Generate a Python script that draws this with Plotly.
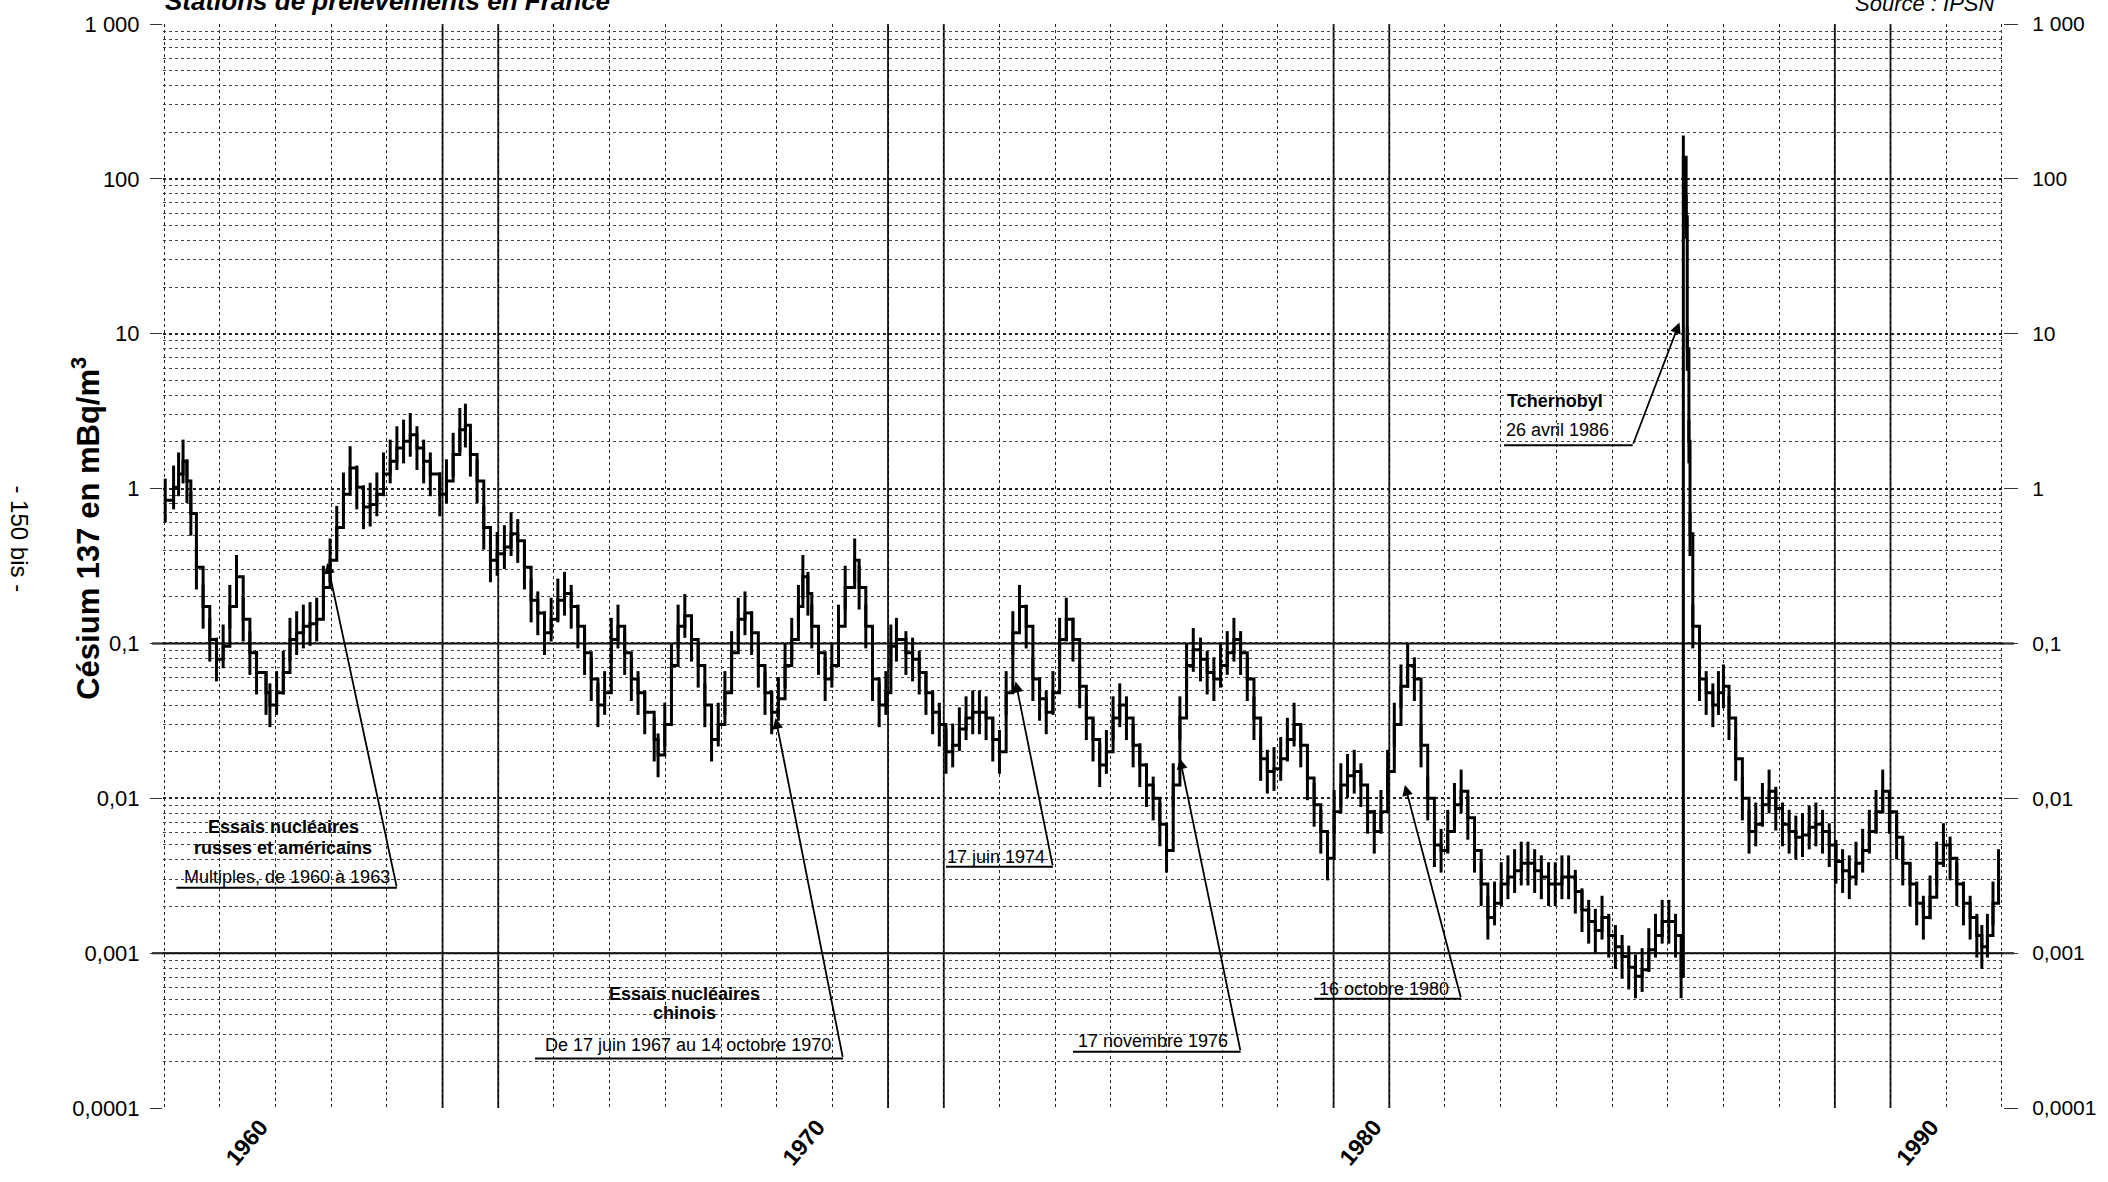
import math
import plotly.graph_objects as go

# ---------------- data ----------------
years = [
    1958.29, 1958.44, 1958.53, 1958.61, 1958.68, 1958.75, 1958.85, 1958.97, 1959.09, 1959.21,
    1959.33, 1959.45, 1959.57, 1959.69, 1959.81, 1959.93, 1960.10, 1960.17, 1960.29, 1960.41,
    1960.53, 1960.65, 1960.77, 1960.89, 1961.01, 1961.13, 1961.25, 1961.37, 1961.49, 1961.61,
    1961.73, 1961.85, 1961.97, 1962.09, 1962.21, 1962.33, 1962.45, 1962.57, 1962.69, 1962.81,
    1962.93, 1963.05, 1963.22, 1963.34, 1963.46, 1963.58, 1963.68, 1963.77, 1963.89, 1964.01,
    1964.13, 1964.25, 1964.38, 1964.50, 1964.62, 1964.74, 1964.86, 1964.98, 1965.10, 1965.22,
    1965.34, 1965.46, 1965.58, 1965.70, 1965.82, 1965.94, 1966.06, 1966.18, 1966.30, 1966.42,
    1966.54, 1966.66, 1966.78, 1966.90, 1967.07, 1967.14, 1967.26, 1967.38, 1967.50, 1967.62,
    1967.74, 1967.86, 1967.98, 1968.10, 1968.22, 1968.34, 1968.46, 1968.58, 1968.70, 1968.82,
    1968.94, 1969.06, 1969.18, 1969.30, 1969.42, 1969.54, 1969.66, 1969.74, 1969.83, 1969.90,
    1970.02, 1970.14, 1970.26, 1970.38, 1970.50, 1970.67, 1970.75, 1970.87, 1970.99, 1971.11,
    1971.23, 1971.32, 1971.42, 1971.59, 1971.71, 1971.83, 1971.95, 1972.07, 1972.19, 1972.31,
    1972.43, 1972.55, 1972.67, 1972.79, 1972.91, 1973.03, 1973.15, 1973.27, 1973.39, 1973.51,
    1973.63, 1973.75, 1973.87, 1973.99, 1974.11, 1974.23, 1974.35, 1974.47, 1974.59, 1974.71,
    1974.83, 1974.95, 1975.07, 1975.19, 1975.31, 1975.43, 1975.55, 1975.67, 1975.79, 1975.91,
    1976.03, 1976.15, 1976.27, 1976.39, 1976.51, 1976.63, 1976.75, 1976.88, 1977.00, 1977.12,
    1977.24, 1977.36, 1977.48, 1977.60, 1977.72, 1977.84, 1977.96, 1978.08, 1978.20, 1978.32,
    1978.44, 1978.56, 1978.68, 1978.80, 1978.92, 1979.04, 1979.16, 1979.28, 1979.40, 1979.52,
    1979.64, 1979.76, 1979.88, 1980.00, 1980.12, 1980.24, 1980.36, 1980.48, 1980.60, 1980.72,
    1980.84, 1980.96, 1981.08, 1981.20, 1981.32, 1981.44, 1981.56, 1981.68, 1981.80, 1981.92,
    1982.04, 1982.16, 1982.28, 1982.40, 1982.52, 1982.64, 1982.76, 1982.88, 1983.00, 1983.13,
    1983.25, 1983.37, 1983.49, 1983.61, 1983.73, 1983.85, 1983.97, 1984.09, 1984.21, 1984.33,
    1984.45, 1984.57, 1984.69, 1984.81, 1984.93, 1985.05, 1985.17, 1985.29, 1985.41, 1985.51,
    1985.55, 1985.60, 1985.62, 1985.65, 1985.67, 1985.72, 1985.84, 1985.96, 1986.08, 1986.18,
    1986.27, 1986.37, 1986.49, 1986.61, 1986.73, 1986.85, 1986.97, 1987.09, 1987.21, 1987.33,
    1987.45, 1987.57, 1987.69, 1987.81, 1987.93, 1988.05, 1988.17, 1988.29, 1988.41, 1988.53,
    1988.65, 1988.77, 1988.89, 1989.01, 1989.13, 1989.25, 1989.38, 1989.49, 1989.62, 1989.74,
    1989.86, 1989.98, 1990.10, 1990.22, 1990.34, 1990.46, 1990.58, 1990.70, 1990.82, 1990.91,
    1991.01, 1991.11, 1991.21,
]
cesium_mbq_m3 = [
    0.84, 1.02, 1.24, 1.50, 1.12, 0.69, 0.31, 0.173, 0.106, 0.079,
    0.096, 0.173, 0.27, 0.143, 0.087, 0.065, 0.048, 0.040, 0.048, 0.065,
    0.106, 0.117, 0.129, 0.134, 0.143, 0.23, 0.345, 0.56, 0.92, 1.36,
    1.02, 0.76, 0.79, 0.92, 1.24, 1.50, 1.83, 2.02, 2.23, 1.83,
    1.50, 1.24, 0.92, 1.12, 1.66, 2.4, 2.56, 1.66, 1.12, 0.56,
    0.345, 0.38, 0.42, 0.51, 0.46, 0.31, 0.19, 0.157, 0.117, 0.143,
    0.19, 0.21, 0.173, 0.129, 0.087, 0.059, 0.040, 0.048, 0.106, 0.129,
    0.087, 0.059, 0.048, 0.036, 0.024, 0.019, 0.030, 0.072, 0.129, 0.151,
    0.106, 0.072, 0.040, 0.024, 0.030, 0.048, 0.087, 0.143, 0.157, 0.117,
    0.072, 0.048, 0.036, 0.044, 0.072, 0.106, 0.173, 0.27, 0.21, 0.129,
    0.087, 0.059, 0.072, 0.129, 0.23, 0.345, 0.23, 0.129, 0.059, 0.040,
    0.048, 0.096, 0.106, 0.087, 0.079, 0.065, 0.048, 0.036, 0.030, 0.020,
    0.022, 0.028, 0.033, 0.036, 0.036, 0.033, 0.024, 0.020, 0.048, 0.117,
    0.173, 0.129, 0.059, 0.044, 0.036, 0.048, 0.106, 0.143, 0.106, 0.053,
    0.033, 0.024, 0.0164, 0.020, 0.033, 0.040, 0.033, 0.022, 0.0164, 0.0122,
    0.0100, 0.0068, 0.0046, 0.0122, 0.033, 0.072, 0.091, 0.079, 0.065, 0.059,
    0.072, 0.087, 0.106, 0.087, 0.059, 0.033, 0.018, 0.0149, 0.0155, 0.018,
    0.024, 0.030, 0.022, 0.0135, 0.0091, 0.0061, 0.0041, 0.0082, 0.0122, 0.0140,
    0.0149, 0.0122, 0.0082, 0.0061, 0.0082, 0.0149, 0.030, 0.053, 0.072, 0.059,
    0.022, 0.0100, 0.0050, 0.0046, 0.0061, 0.0091, 0.0111, 0.0075, 0.0046, 0.0028,
    0.0017, 0.0021, 0.0028, 0.0031, 0.0034, 0.0038, 0.0038, 0.0034, 0.0031, 0.0028,
    0.0028, 0.0031, 0.0031, 0.0025, 0.0019, 0.0016, 0.0014, 0.0017, 0.0013, 0.0011,
    0.00095, 0.00081, 0.00071, 0.00078, 0.00105, 0.0013, 0.0016, 0.0016, 0.0013, 0.00071,
    138.0, 57.0, 8.0, 2.02, 0.51, 0.129, 0.059, 0.048, 0.040, 0.048,
    0.053, 0.033, 0.018, 0.0100, 0.0061, 0.0068, 0.0091, 0.0111, 0.0086, 0.0068,
    0.0061, 0.0056, 0.0058, 0.0065, 0.0068, 0.0061, 0.0050, 0.0039, 0.0034, 0.0031,
    0.0038, 0.0046, 0.0061, 0.0082, 0.0111, 0.0082, 0.0056, 0.0038, 0.0028, 0.0021,
    0.0017, 0.0023, 0.0038, 0.0050, 0.0041, 0.0028, 0.0021, 0.0017, 0.0013, 0.0011,
    0.0013, 0.0021, 0.0034,
]

y_tick_vals = [1e-4, 1e-3, 1e-2, 1e-1, 1, 10, 100, 1000]
y_tick_text = ["0,0001", "0,001", "0,01", "0,1", "1", "10", "100", "1 000"]
x_tick_vals = [1960, 1970, 1980, 1990]
x_tick_text = ["1960", "1970", "1980", "1990"]

# year grid starts at this position (chart paper), one line per year
year_grid_start = 1958.27
solid_grid_years = [1963.27, 1964.27, 1971.27, 1972.27, 1979.27, 1980.27, 1988.27, 1989.27]
solid_grid_values = [0.1, 0.001]

# callouts: text lines (text, x, value), underline (x0, x1, value), leader tail -> head
callouts = [
    dict(lines=[("<b>Essais nucléaires</b>", 1960.41, 0.0065),
                ("<b>russes et américains</b>", 1960.41, 0.00475),
                ("Multiples, de 1960 à 1963", 1960.48, 0.0031)],
         underline=(1958.49, 1962.45, 0.00264),
         tail=(1962.45, 0.00264), head=(1961.20, 0.331)),
    dict(lines=[("<b>Essais nucléaires</b>", 1967.62, 0.000548),
                ("<b>chinois</b>", 1967.62, 0.000408),
                ("De 17 juin 1967 au 14 octobre 1970", 1967.67, 0.000256)],
         underline=(1964.93, 1970.46, 0.000209),
         tail=(1970.46, 0.000209), head=(1969.25, 0.033)),
    dict(lines=[("17 juin 1974", 1973.20, 0.0042)],
         underline=(1972.31, 1974.23, 0.00361),
         tail=(1974.23, 0.00361), head=(1973.56, 0.0567)),
    dict(lines=[("17 novembre 1976", 1976.03, 0.00027)],
         underline=(1974.59, 1977.60, 0.000231),
         tail=(1977.60, 0.000231), head=(1976.51, 0.0181)),
    dict(lines=[("16 octobre 1980", 1980.17, 0.00059)],
         underline=(1978.92, 1981.56, 0.000507),
         tail=(1981.56, 0.000507), head=(1980.55, 0.0122)),
    dict(lines=[("<b>Tchernobyl</b>", 1983.25, 3.7),
                ("26 avril 1986", 1983.29, 2.4)],
         underline=(1982.33, 1984.64, 1.905),
         tail=(1984.64, 1.905), head=(1985.48, 11.8)),
]

# ---------------- figure ----------------
NARROW = "Liberation Sans Narrow, Arial Narrow, Liberation Sans, Arial, sans-serif"
SANS = "Liberation Sans, Arial, DejaVu Sans, sans-serif"
Y_LOG_RANGE = [-4, 3]
X_RANGE = [1958.25, 1991.29]

fig = go.Figure()

fig.add_trace(go.Scatter(
    x=years, y=cesium_mbq_m3, mode="lines",
    line=dict(color="black", width=3, shape="hv"),
    error_y=dict(type="percent", symmetric=False, value=38, valueminus=28,
                 thickness=3, width=0, color="black"),
    showlegend=False, hoverinfo="skip",
))
# invisible twin so the right-hand axis is drawn
fig.add_trace(go.Scatter(
    x=years, y=cesium_mbq_m3, mode="lines", yaxis="y2",
    line=dict(color="rgba(0,0,0,0)", width=0), showlegend=False, hoverinfo="skip",
))

annotations = []
for c in callouts:
    ux0, ux1, uy = c["underline"]
    fig.add_trace(go.Scatter(
        x=[ux0, ux1], y=[uy, uy], mode="lines",
        line=dict(color="black", width=2), showlegend=False, hoverinfo="skip",
    ))
    for text, tx, ty in c["lines"]:
        annotations.append(dict(
            x=tx, y=math.log10(ty), xref="x", yref="y", text=text, showarrow=False,
            font=dict(family=NARROW, size=18, color="black"),
            xanchor="center", yanchor="middle", borderpad=0,
        ))
    (hx, hy), (tx, ty) = c["head"], c["tail"]
    annotations.append(dict(
        x=hx, y=math.log10(hy), xref="x", yref="y",
        ax=tx, ay=math.log10(ty), axref="x", ayref="y",
        text="", showarrow=True, arrowhead=2, arrowsize=1.2, arrowwidth=1.8,
        arrowcolor="black", standoff=0, startstandoff=0,
    ))

# axis title and page texts
annotations += [
    dict(x=-0.042, y=0.535, xref="paper", yref="paper", textangle=-90,
         text="<b>Césium 137 en mBq/m<sup>3</sup></b>", showarrow=False,
         font=dict(family=SANS, size=31, color="black"), xanchor="center", yanchor="middle"),
    dict(x=-0.078, y=0.525, xref="paper", yref="paper", textangle=90,
         text="- 150 bis -", showarrow=False,
         font=dict(family=SANS, size=24, color="black"), xanchor="center", yanchor="middle"),
    dict(x=0.0, y=1.0, yshift=6, xref="paper", yref="paper",
         text="<b><i>Stations de prélèvements en France</i></b>", showarrow=False,
         font=dict(family=SANS, size=26, color="black"), xanchor="left", yanchor="bottom"),
    dict(x=0.997, y=1.0, yshift=6, xref="paper", yref="paper",
         text="<i>Source : IPSN</i>", showarrow=False,
         font=dict(family=SANS, size=22, color="black"), xanchor="right", yanchor="bottom"),
]

shapes = []
for yr in solid_grid_years:
    shapes.append(dict(type="line", xref="x", yref="paper", x0=yr, x1=yr, y0=0, y1=1,
                       line=dict(color="black", width=1.8), layer="below"))
for v in solid_grid_values:
    frac = (math.log10(v) - Y_LOG_RANGE[0]) / (Y_LOG_RANGE[1] - Y_LOG_RANGE[0])
    shapes.append(dict(type="line", xref="paper", yref="paper", x0=-0.006, x1=1.006,
                       y0=frac, y1=frac, line=dict(color="black", width=2), layer="below"))

grid_col = "#222222"
fig.update_layout(
    width=2108, height=1182,
    margin=dict(l=163, r=102, t=20, b=60),
    paper_bgcolor="white", plot_bgcolor="white",
    showlegend=False,
    annotations=annotations, shapes=shapes,
    xaxis=dict(
        range=X_RANGE, tickmode="array", tickvals=x_tick_vals, ticktext=x_tick_text,
        tickangle=-50, showgrid=False, zeroline=False, ticks="",
        tickfont=dict(family=NARROW, size=23, color="black", weight="bold"),
        minor=dict(tick0=year_grid_start, dtick=1, showgrid=True, gridcolor=grid_col,
                   griddash="dot", gridwidth=1.4, ticks=""),
        showline=False,
    ),
    yaxis=dict(
        type="log", range=Y_LOG_RANGE, tickmode="array", tickvals=y_tick_vals,
        ticktext=y_tick_text, showgrid=True, gridcolor=grid_col, griddash="dot",
        gridwidth=1.8, ticks="outside", ticklen=12, tickcolor="#333", tickwidth=1,
        ticklabelstandoff=6,
        tickfont=dict(family=NARROW, size=22, color="black"),
        minor=dict(dtick="D1", showgrid=True, gridcolor="#444444", griddash="dot",
                   gridwidth=1, ticks=""),
        zeroline=False, showline=False,
    ),
    yaxis2=dict(
        type="log", range=Y_LOG_RANGE, overlaying="y", side="right",
        tickmode="array", tickvals=y_tick_vals, ticktext=y_tick_text,
        showgrid=False, ticks="outside", ticklen=14, tickcolor="#333",
        ticklabelstandoff=10,
        tickfont=dict(family=NARROW, size=21, color="black"),
        zeroline=False, showline=False,
    ),
)

fig.write_html(
    "out.html",
    config=dict(displayModeBar=False),
    post_script="document.body.style.margin='0';document.body.style.overflow='hidden';",
)
